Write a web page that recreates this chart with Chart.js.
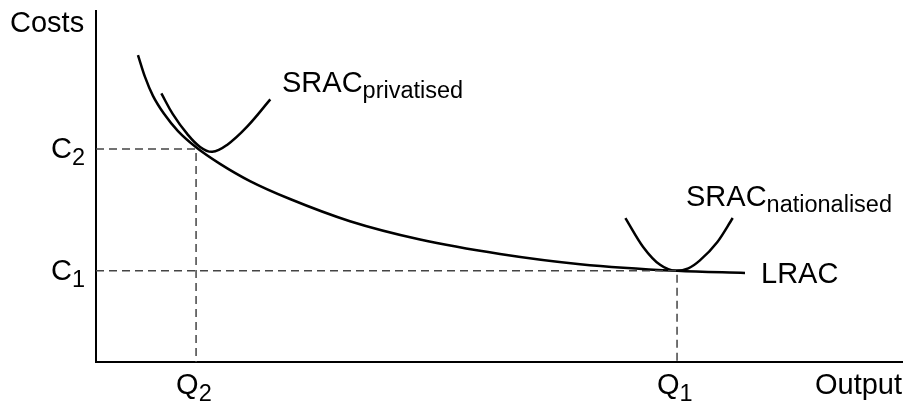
<!DOCTYPE html>
<html>
<head>
<meta charset="utf-8">
<script src="https://cdn.jsdelivr.net/npm/chart.js@4/dist/chart.umd.min.js"></script>
<style>
    body { margin: 0; background: #fff; }
    canvas { display: block; }
</style>
</head>
<body>
<canvas id="costChart" width="906" height="403"></canvas>
<script>
// значения (оси 0..100)
const lracX = [5.2, 6.07, 7.06, 8.43, 10.16, 12.52, 15.37, 19.08, 24.04, 31.47, 40.15, 50.06, 59.98, 72.0, 80.42];
const lracY = [87.2, 81.0, 75.6, 70.5, 65.6, 60.8, 56.3, 51.4, 46.3, 40.0, 34.8, 30.7, 27.8, 25.9, 25.3];

const privX = [8.1, 9.5, 11.3, 12.9, 14.4, 16.2, 18.7, 21.6];
const privY = [76.3, 70.5, 64.8, 61.1, 59.7, 61.6, 66.8, 74.6];

const natX = [65.6, 67.8, 69.9, 71.9, 73.4, 74.8, 77.0, 78.9];
const natY = [40.9, 32.7, 27.6, 25.9, 26.6, 28.8, 34.1, 40.9];

const q2 = 12.4, q1 = 72.0;
const c2 = 60.5, c1 = 25.9;

const xLabels = ["Q", "Q"];
const xSubs = ["2", "1"];
const yLabels = ["C", "C"];
const ySubs = ["2", "1"];

function toPoints(xs, ys) {
    return xs.map((x, i) => ({ x: x, y: ys[i] }));
}

const FONT = '"Liberation Sans", Arial, sans-serif';

function curve(xs, ys, mode) {
    const ds = {
        data: toPoints(xs, ys),
        showLine: true,
        borderColor: '#000',
        borderWidth: 2.5,
        pointRadius: 0,
        tension: 0.4,
        clip: false
    };
    if (mode) ds.cubicInterpolationMode = mode;
    return ds;
}

function guide(points) {
    return {
        data: points,
        showLine: true,
        borderColor: '#444',
        borderWidth: 1.5,
        borderDash: [8, 5],
        pointRadius: 0,
        clip: false
    };
}

function axisLine(points) {
    return {
        data: points,
        showLine: true,
        borderColor: '#000',
        borderWidth: 2,
        pointRadius: 0,
        clip: false
    };
}

// рисуем текст с нижним индексом
function subText(ctx, main, sub, x, y, size, subSize, drop) {
    ctx.font = size + 'px ' + FONT;
    ctx.fillText(main, x, y);
    const w = ctx.measureText(main).width;
    ctx.font = subSize + 'px ' + FONT;
    ctx.fillText(sub, x + w, y + drop);
}

const labelsPlugin = {
    id: 'labels',
    afterDatasetsDraw(chart) {
        const ctx = chart.ctx;
        const xs = chart.scales.x, ys = chart.scales.y;
        const area = chart.chartArea;
        ctx.save();
        ctx.fillStyle = '#000';
        ctx.textBaseline = 'alphabetic';
        ctx.textAlign = 'left';

        ctx.font = '29px ' + FONT;
        ctx.fillText('Costs', area.left - 86, area.top + 22);
        ctx.fillText('Output', 815, area.bottom + 32);
        ctx.fillText('LRAC', 761, ys.getPixelForValue(lracY[lracY.length - 1]) + 10);

        [c2, c1].forEach((v, i) => {
            subText(ctx, yLabels[i], ySubs[i], area.left - 45, ys.getPixelForValue(v) + 9, 29, 23.5, 7);
        });
        [q2, q1].forEach((v, i) => {
            subText(ctx, xLabels[i], xSubs[i], xs.getPixelForValue(v) - 20, area.bottom + 32, 29, 23.5, 7);
        });

        subText(ctx, 'SRAC', 'privatised', 282, 92, 29, 23.5, 6);
        subText(ctx, 'SRAC', 'nationalised', 686, 206, 29, 23.5, 6);
        ctx.restore();
    }
};

new Chart(document.getElementById('costChart'), {
    type: 'scatter',
    data: {
        datasets: [
            guide([{ x: 0, y: c2 }, { x: q2, y: c2 }, { x: q2, y: 0 }]),
            guide([{ x: 0, y: c1 }, { x: q1, y: c1 }, { x: q1, y: 0 }]),
            curve(lracX, lracY, 'monotone'),
            curve(privX, privY),
            curve(natX, natY, 'monotone'),
            axisLine([{ x: 0, y: 100 }, { x: 0, y: 0 }, { x: 100, y: 0 }])
        ]
    },
    options: {
        responsive: false,
        animation: false,
        devicePixelRatio: 1,
        layout: { padding: { left: 96, right: 3, top: 10, bottom: 41 } },
        scales: {
            x: { type: 'linear', min: 0, max: 100, display: false },
            y: { type: 'linear', min: 0, max: 100, display: false }
        },
        plugins: {
            legend: { display: false },
            tooltip: { enabled: false }
        }
    },
    plugins: [labelsPlugin]
});
</script>
</body>
</html>
